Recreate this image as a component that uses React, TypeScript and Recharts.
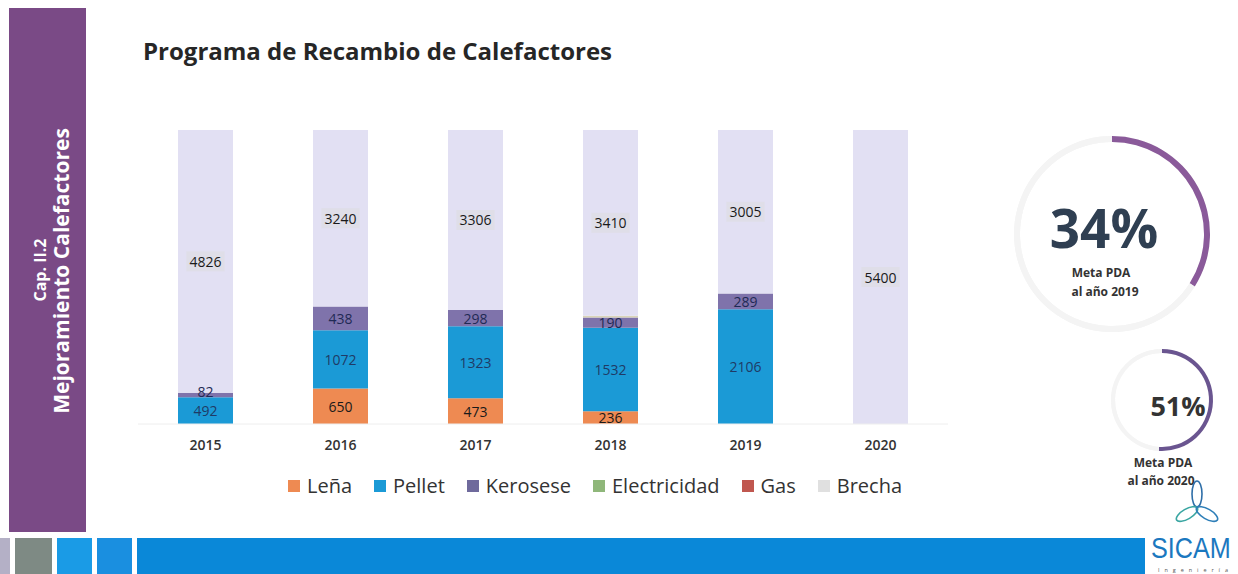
import React from 'react';
import { BarChart, Bar, XAxis, YAxis, Legend, LabelList, PieChart, Pie, Cell } from 'recharts';

// años del programa
const years = ['2015', '2016', '2017', '2018', '2019', '2020'];

// calefactores recambiados por tipo
const lena = [0, 650, 473, 236, 0, 0];
const pellet = [492, 1072, 1323, 1532, 2106, 0];
const kerosese = [82, 438, 298, 190, 289, 0];
const electricidad = [0, 0, 0, 32, 0, 0];
const gas = [0, 0, 0, 0, 0, 0];
const brecha = [4826, 3240, 3306, 3410, 3005, 5400];

// metas PDA (%)
const metaLabels = ['al año 2019', 'al año 2020'];
const metaValues = [34, 51];

const seriesDefs = [
  { key: 'lena', name: 'Leña', color: '#ee8a52', label: '#1a1a1a', legend: '#ee8a52' },
  { key: 'pellet', name: 'Pellet', color: '#1b9ad6', label: '#1f3a66', legend: '#1b9ad6' },
  { key: 'kerosese', name: 'Kerosese', color: '#7f73ab', label: '#1f2a55', legend: '#6f6a9c' },
  { key: 'electricidad', name: 'Electricidad', color: '#d9d4b8', label: '#1a1a1a', legend: '#8fb77a' },
  { key: 'gas', name: 'Gas', color: '#c0504d', label: '#1a1a1a', legend: '#c0574f' },
  { key: 'brecha', name: 'Brecha', color: '#e2e0f3', label: '#1a1a1a', legend: '#e0e0e0' },
];

const data = years.map((y, i) => ({
  year: y,
  lena: lena[i],
  pellet: pellet[i],
  kerosese: kerosese[i],
  electricidad: electricidad[i],
  gas: gas[i],
  brecha: brecha[i],
}));

const FONT = "'Open Sans', 'Noto Sans', sans-serif";

const makeLabel = (color: string, boxed: boolean) => (props: any) => {
  const { x, y, width, height, value } = props;
  if (!value || value < 60) return null;
  const cx = x + width / 2;
  // the thin 82 segment label sits slightly above its bar, as in the slide
  const cy = y + height / 2 - (height < 10 ? 3 : 0);
  const txt = String(value);
  const w = txt.length * 8.6 + 4;
  return (
    <g>
      {boxed && <rect x={cx - w / 2} y={cy - 10} width={w} height={20} fill="#dcdcdc" opacity={0.45} />}
      <text x={cx} y={cy} textAnchor="middle" dominantBaseline="central" fontSize={14} fill={color} fontFamily={FONT}>
        {txt}
      </text>
    </g>
  );
};

const renderLegend = () => (
  <div style={{ display: 'flex', alignItems: 'center', fontFamily: FONT, fontSize: 20, color: '#333' }}>
    {seriesDefs.map((s) => (
      <div key={s.key} style={{ display: 'flex', alignItems: 'center', marginRight: 22 }}>
        <span style={{ width: 12, height: 12, background: s.legend, display: 'inline-block', marginRight: 7 }} />
        <span>{s.name}</span>
      </div>
    ))}
  </div>
);

const App = () => {
  const ringData = metaValues.map((v) => [{ v }, { v: 100 - v }]);
  return (
    <div style={{ position: 'absolute', left: 0, top: 0, width: 1238, height: 574, background: '#fff', overflow: 'hidden' }}>
      {/* decorado del slide */}
      <svg width={1238} height={574} style={{ position: 'absolute', left: 0, top: 0 }}>
        <rect x={9} y={8} width={77} height={524} fill="#7a4a86" />
        <text transform="translate(40,270) rotate(-90)" textAnchor="middle" dominantBaseline="central" fill="#fff" fontFamily={FONT} fontWeight={700} fontSize={16}>
          Cap. II.2
        </text>
        <text transform="translate(61,271) rotate(-90)" textAnchor="middle" dominantBaseline="central" fill="#fff" fontFamily={FONT} fontWeight={700} fontSize={21}>
          Mejoramiento Calefactores
        </text>
        <text x={143} y={60} fontFamily={FONT} fontWeight={700} fontSize={24} fill="#262626">
          Programa de Recambio de Calefactores
        </text>
        <rect x={0} y={538} width={10} height={36} fill="#b4b0c6" />
        <rect x={15} y={538} width={37} height={36} fill="#7e8a84" />
        <rect x={57} y={538} width={35} height={36} fill="#1a9be6" />
        <rect x={97} y={538} width={35} height={36} fill="#1a8fe0" />
        <rect x={137} y={538} width={1008} height={36} fill="#0a88d8" />

        <text x={1104} y={248} textAnchor="middle" fontFamily={FONT} fontWeight={700} fontSize={53} fill="#2f3f52">
          {metaValues[0]}%
        </text>
        <text x={1101} y={277} textAnchor="middle" fontFamily={FONT} fontWeight={700} fontSize={12} fill="#333">
          Meta PDA
        </text>
        <text x={1105} y={296} textAnchor="middle" fontFamily={FONT} fontWeight={700} fontSize={12} fill="#333">
          {metaLabels[0]}
        </text>
        <text x={1178} y={405} textAnchor="middle" dominantBaseline="central" fontFamily={FONT} fontWeight={700} fontSize={27} fill="#333">
          {metaValues[1]}%
        </text>
        <text x={1163} y={467} textAnchor="middle" fontFamily={FONT} fontWeight={700} fontSize={12} fill="#333">
          Meta PDA
        </text>
        <text x={1161} y={485} textAnchor="middle" fontFamily={FONT} fontWeight={700} fontSize={12} fill="#333">
          {metaLabels[1]}
        </text>

        {/* logo SICAM */}
        <g fill="none" strokeWidth={1.6}>
          <ellipse cx={1197} cy={494} rx={5} ry={13} stroke="#2f6fa8" />
          <ellipse cx={1187} cy={514} rx={5} ry={12} transform="rotate(60 1187 514)" stroke="#3aa6a2" />
          <ellipse cx={1207} cy={514} rx={5} ry={12} transform="rotate(-60 1207 514)" stroke="#2f7fb8" />
        </g>
        <text transform="translate(1151,558) scale(1.05,1.2)" fontFamily="'Liberation Sans', sans-serif" fontSize={24} fill="#1b78bf">
          SICAM
        </text>
        <text x={1158} y={572} fontFamily={FONT} fontSize={5.5} fill="#555" textLength={70} lengthAdjust="spacing">
          Ingeniería
        </text>
      </svg>

      <div style={{ position: 'absolute', left: 138, top: 0 }}>
        <BarChart width={810} height={520} data={data} margin={{ top: 130, right: 0, left: 0, bottom: 66 }} barSize={55}>
          <XAxis
            dataKey="year"
            height={30}
            tickLine={false}
            tickMargin={10}
            axisLine={{ stroke: '#eeeeee' }}
            tick={{ fontSize: 14, fontWeight: 600, fill: '#333', fontFamily: FONT }}
          />
          <YAxis hide domain={[0, 5400]} />
          <Legend
            verticalAlign="middle"
            layout="horizontal"
            content={renderLegend}
            wrapperStyle={{ left: 150, top: 472, width: 700 }}
          />
          {seriesDefs.map((s) => (
            <Bar key={s.key} dataKey={s.key} name={s.name} stackId="a" fill={s.color} isAnimationActive={false}>
              <LabelList dataKey={s.key} content={makeLabel(s.label, s.key === 'brecha')} />
            </Bar>
          ))}
        </BarChart>
      </div>

      <div style={{ position: 'absolute', left: 998, top: 120 }}>
        <PieChart width={240} height={360}>
          <Pie data={[{ v: 1 }]} dataKey="v" cx={109} cy={109} innerRadius={92} outerRadius={98} fill="#f4f4f4" stroke="none" isAnimationActive={false} />
          <Pie data={ringData[0]} dataKey="v" cx={109} cy={109} innerRadius={92} outerRadius={98} startAngle={90} endAngle={-270} stroke="none" isAnimationActive={false}>
            <Cell fill="#8a5a9a" />
            <Cell fill="#f4f4f4" />
          </Pie>
          <Pie data={[{ v: 1 }]} dataKey="v" cx={159} cy={275} innerRadius={47} outerRadius={51} fill="#f4f4f4" stroke="none" isAnimationActive={false} />
          <Pie data={ringData[1]} dataKey="v" cx={159} cy={275} innerRadius={47} outerRadius={51} startAngle={90} endAngle={-270} stroke="none" isAnimationActive={false}>
            <Cell fill="#6a5590" />
            <Cell fill="#f4f4f4" />
          </Pie>
        </PieChart>
      </div>
    </div>
  );
};

export default App;
